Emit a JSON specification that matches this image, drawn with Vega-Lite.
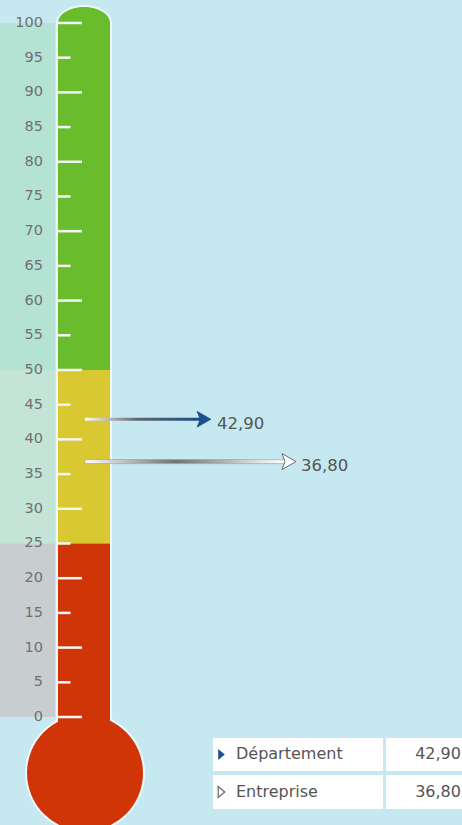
{
  "$schema": "https://vega.github.io/schema/vega-lite/v6.json",
  "width": 462,
  "height": 825,
  "padding": 0,
  "autosize": {"type": "none"},
  "background": "#c5e8f1",
  "config": {
    "view": {"stroke": null},
    "axis": {"domain": false, "ticks": false, "labels": false, "grid": false, "title": null},
    "text": {"font": "DejaVu Sans"}
  },
  "datasets": {
    "graduations": [
      {"v": 0}, {"v": 5}, {"v": 10}, {"v": 15}, {"v": 20}, {"v": 25}, {"v": 30},
      {"v": 35}, {"v": 40}, {"v": 45}, {"v": 50}, {"v": 55}, {"v": 60}, {"v": 65},
      {"v": 70}, {"v": 75}, {"v": 80}, {"v": 85}, {"v": 90}, {"v": 95}, {"v": 100}
    ],
    "zones": [
      {"zone": "vert", "bas": 50, "haut": 100},
      {"zone": "jaune", "bas": 25, "haut": 50},
      {"zone": "rouge", "bas": 0, "haut": 25}
    ],
    "series": [
      {"serie": "Département", "valeur": 42.9, "libelle": "42,90"},
      {"serie": "Entreprise", "valeur": 36.8, "libelle": "36,80"}
    ]
  },
  "layer": [
    {
      "data": {"name": "zones"},
      "mark": {"type": "rect"},
      "encoding": {
        "x": {"datum": 0, "type": "quantitative", "scale": {"domain": [0, 100], "nice": false, "zero": false}},
        "x2": {"datum": 11.9},
        "y": {"field": "bas", "type": "quantitative", "scale": {"domain": [-15.56, 103.31], "nice": false, "zero": false}},
        "y2": {"field": "haut"},
        "fill": {
          "condition": [
            {"test": "datum.zone == 'vert'", "value": "#b4e3d4"},
            {"test": "datum.zone == 'jaune'", "value": "#c3e4d7"}
          ],
          "value": "#c8cdcf"
        }
      }
    },
    {
      "data": {"values": [{}]},
      "mark": {"type": "rect", "fill": "#eef8fa"},
      "encoding": {
        "x": {"datum": 12.12, "type": "quantitative"},
        "x2": {"datum": 24.24},
        "y": {"datum": -5, "type": "quantitative"},
        "y2": {"datum": 100}
      }
    },
    {
      "data": {"values": [{}]},
      "mark": {"type": "point", "shape": "M-1,0A1,0.643,0,0,1,1,0Z", "filled": true, "fill": "#eef8fa", "opacity": 1, "size": 3136},
      "encoding": {
        "x": {"datum": 18.18, "type": "quantitative"},
        "y": {"datum": 100, "type": "quantitative"}
      }
    },
    {
      "data": {"values": [{}]},
      "mark": {"type": "point", "shape": "circle", "filled": true, "fill": "#eef8fa", "opacity": 1, "size": 14400},
      "encoding": {
        "x": {"datum": 18.4, "type": "quantitative"},
        "y": {"datum": -8.07, "type": "quantitative"}
      }
    },
    {
      "data": {"values": [{}]},
      "mark": {"type": "point", "shape": "M-1,0A1,0.615,0,0,1,1,0Z", "filled": true, "fill": "#69bd2d", "opacity": 1, "size": 2704},
      "encoding": {
        "x": {"datum": 18.18, "type": "quantitative"},
        "y": {"datum": 100, "type": "quantitative"}
      }
    },
    {
      "data": {"name": "zones"},
      "mark": {"type": "rect"},
      "encoding": {
        "x": {"datum": 12.55, "type": "quantitative"},
        "x2": {"datum": 23.81},
        "y": {"field": "bas", "type": "quantitative"},
        "y2": {"field": "haut"},
        "fill": {
          "condition": [
            {"test": "datum.zone == 'vert'", "value": "#69bd2d"},
            {"test": "datum.zone == 'jaune'", "value": "#d9c832"}
          ],
          "value": "#cf3507"
        }
      }
    },
    {
      "data": {"values": [{}]},
      "mark": {"type": "rect", "fill": "#cf3507"},
      "encoding": {
        "x": {"datum": 12.55, "type": "quantitative"},
        "x2": {"datum": 23.81},
        "y": {"datum": -5, "type": "quantitative"},
        "y2": {"datum": 0.5}
      }
    },
    {
      "data": {"values": [{}]},
      "mark": {"type": "point", "shape": "circle", "filled": true, "fill": "#cf3507", "opacity": 1, "size": 13456},
      "encoding": {
        "x": {"datum": 18.4, "type": "quantitative"},
        "y": {"datum": -8.07, "type": "quantitative"}
      }
    },
    {
      "data": {"name": "graduations"},
      "transform": [{"filter": "datum.v % 10 == 0"}],
      "mark": {"type": "rule", "stroke": "#f4f8f6", "strokeWidth": 2.5},
      "encoding": {
        "x": {"datum": 12.3, "type": "quantitative"},
        "x2": {"datum": 17.75},
        "y": {"field": "v", "type": "quantitative"}
      }
    },
    {
      "data": {"name": "graduations"},
      "transform": [{"filter": "datum.v % 10 != 0"}],
      "mark": {"type": "rule", "stroke": "#f4f8f6", "strokeWidth": 2.5},
      "encoding": {
        "x": {"datum": 12.3, "type": "quantitative"},
        "x2": {"datum": 15.26},
        "y": {"field": "v", "type": "quantitative"}
      }
    },
    {
      "data": {"name": "graduations"},
      "mark": {"type": "text", "align": "right", "baseline": "middle", "fontSize": 14.5, "fill": "#707070"},
      "encoding": {
        "x": {"datum": 9.31, "type": "quantitative"},
        "y": {"field": "v", "type": "quantitative"},
        "text": {"field": "v", "type": "nominal"}
      }
    },
    {
      "data": {"name": "series"},
      "transform": [{"filter": "datum.serie == 'Département'"}],
      "mark": {
        "type": "rect", "height": 3,
        "fill": {"gradient": "linear", "x1": 0, "y1": 0, "x2": 1, "y2": 0, "stops": [
          {"offset": 0, "color": "#ffffff"},
          {"offset": 0.12, "color": "#d4d4d4"},
          {"offset": 0.45, "color": "#5d6670"},
          {"offset": 1, "color": "#1c4a85"}
        ]}
      },
      "encoding": {
        "x": {"datum": 18.4, "type": "quantitative"},
        "x2": {"datum": 43.72},
        "y": {"field": "valeur", "type": "quantitative"}
      }
    },
    {
      "data": {"name": "series"},
      "transform": [{"filter": "datum.serie == 'Entreprise'"}],
      "mark": {
        "type": "rect", "height": 4, "stroke": "#9a9a9a", "strokeWidth": 0.6,
        "fill": {"gradient": "linear", "x1": 0, "y1": 0, "x2": 1, "y2": 0, "stops": [
          {"offset": 0, "color": "#ffffff"},
          {"offset": 0.12, "color": "#d8d8d8"},
          {"offset": 0.45, "color": "#707070"},
          {"offset": 0.85, "color": "#e0e0e0"},
          {"offset": 1, "color": "#ffffff"}
        ]}
      },
      "encoding": {
        "x": {"datum": 18.4, "type": "quantitative"},
        "x2": {"datum": 62.12},
        "y": {"field": "valeur", "type": "quantitative"}
      }
    },
    {
      "data": {"name": "series"},
      "transform": [{"filter": "datum.serie == 'Département'"}],
      "mark": {"type": "point", "shape": "M-0.875,-1L0.875,0L-0.875,1L-0.5,0Z", "filled": true, "fill": "#1b5093", "stroke": "#173f73", "strokeWidth": 0.5, "opacity": 1, "size": 256},
      "encoding": {
        "x": {"datum": 44.16, "type": "quantitative"},
        "y": {"field": "valeur", "type": "quantitative"}
      }
    },
    {
      "data": {"name": "series"},
      "transform": [{"filter": "datum.serie == 'Entreprise'"}],
      "mark": {"type": "point", "shape": "M-0.875,-1L0.875,0L-0.875,1L-0.5,0Z", "filled": true, "fill": "#ffffff", "stroke": "#6a6a6a", "strokeWidth": 1, "opacity": 1, "size": 256},
      "encoding": {
        "x": {"datum": 62.55, "type": "quantitative"},
        "y": {"field": "valeur", "type": "quantitative"}
      }
    },
    {
      "data": {"name": "series"},
      "transform": [{"filter": "datum.serie == 'Département'"}],
      "mark": {"type": "text", "align": "left", "baseline": "middle", "dy": 5, "fontSize": 16.5, "fill": "#555555"},
      "encoding": {
        "x": {"datum": 46.97, "type": "quantitative"},
        "y": {"field": "valeur", "type": "quantitative"},
        "text": {"field": "libelle", "type": "nominal"}
      }
    },
    {
      "data": {"name": "series"},
      "transform": [{"filter": "datum.serie == 'Entreprise'"}],
      "mark": {"type": "text", "align": "left", "baseline": "middle", "dy": 4.5, "fontSize": 16.5, "fill": "#555555"},
      "encoding": {
        "x": {"datum": 65.15, "type": "quantitative"},
        "y": {"field": "valeur", "type": "quantitative"},
        "text": {"field": "libelle", "type": "nominal"}
      }
    },
    {
      "data": {"values": [{}]},
      "mark": {"type": "rect", "fill": "#ffffff"},
      "encoding": {
        "x": {"datum": 46.1, "type": "quantitative"},
        "x2": {"datum": 82.9},
        "y": {"datum": -3.03, "type": "quantitative"},
        "y2": {"datum": -7.78}
      }
    },
    {
      "data": {"values": [{}]},
      "mark": {"type": "rect", "fill": "#ffffff"},
      "encoding": {
        "x": {"datum": 83.55, "type": "quantitative"},
        "x2": {"datum": 100},
        "y": {"datum": -3.03, "type": "quantitative"},
        "y2": {"datum": -7.78}
      }
    },
    {
      "data": {"values": [{}]},
      "mark": {"type": "rect", "fill": "#ffffff"},
      "encoding": {
        "x": {"datum": 46.1, "type": "quantitative"},
        "x2": {"datum": 82.9},
        "y": {"datum": -8.36, "type": "quantitative"},
        "y2": {"datum": -13.26}
      }
    },
    {
      "data": {"values": [{}]},
      "mark": {"type": "rect", "fill": "#ffffff"},
      "encoding": {
        "x": {"datum": 83.55, "type": "quantitative"},
        "x2": {"datum": 100},
        "y": {"datum": -8.36, "type": "quantitative"},
        "y2": {"datum": -13.26}
      }
    },
    {
      "data": {"name": "series"},
      "transform": [{"filter": "datum.serie == 'Département'"}],
      "mark": {"type": "point", "shape": "M-0.6,-1L0.6,0L-0.6,1Z", "filled": true, "fill": "#1b5093", "opacity": 1, "size": 121},
      "encoding": {
        "x": {"datum": 47.94, "type": "quantitative"},
        "y": {"datum": -5.4, "type": "quantitative"}
      }
    },
    {
      "data": {"name": "series"},
      "transform": [{"filter": "datum.serie == 'Entreprise'"}],
      "mark": {"type": "point", "shape": "M-0.6,-1L0.6,0L-0.6,1Z", "filled": true, "fill": "#ffffff", "stroke": "#666666", "strokeWidth": 1.2, "opacity": 1, "size": 121},
      "encoding": {
        "x": {"datum": 47.94, "type": "quantitative"},
        "y": {"datum": -10.81, "type": "quantitative"}
      }
    },
    {
      "data": {"name": "series"},
      "transform": [{"filter": "datum.serie == 'Département'"}],
      "mark": {"type": "text", "align": "left", "baseline": "middle", "fontSize": 16, "fill": "#555555"},
      "encoding": {
        "x": {"datum": 51.08, "type": "quantitative"},
        "y": {"datum": -5.4, "type": "quantitative"},
        "text": {"field": "serie", "type": "nominal"}
      }
    },
    {
      "data": {"name": "series"},
      "transform": [{"filter": "datum.serie == 'Département'"}],
      "mark": {"type": "text", "align": "right", "baseline": "middle", "fontSize": 16, "fill": "#555555"},
      "encoding": {
        "x": {"datum": 99.78, "type": "quantitative"},
        "y": {"datum": -5.4, "type": "quantitative"},
        "text": {"field": "libelle", "type": "nominal"}
      }
    },
    {
      "data": {"name": "series"},
      "transform": [{"filter": "datum.serie == 'Entreprise'"}],
      "mark": {"type": "text", "align": "left", "baseline": "middle", "fontSize": 16, "fill": "#555555"},
      "encoding": {
        "x": {"datum": 51.08, "type": "quantitative"},
        "y": {"datum": -10.81, "type": "quantitative"},
        "text": {"field": "serie", "type": "nominal"}
      }
    },
    {
      "data": {"name": "series"},
      "transform": [{"filter": "datum.serie == 'Entreprise'"}],
      "mark": {"type": "text", "align": "right", "baseline": "middle", "fontSize": 16, "fill": "#555555"},
      "encoding": {
        "x": {"datum": 99.78, "type": "quantitative"},
        "y": {"datum": -10.81, "type": "quantitative"},
        "text": {"field": "libelle", "type": "nominal"}
      }
    }
  ]
}
